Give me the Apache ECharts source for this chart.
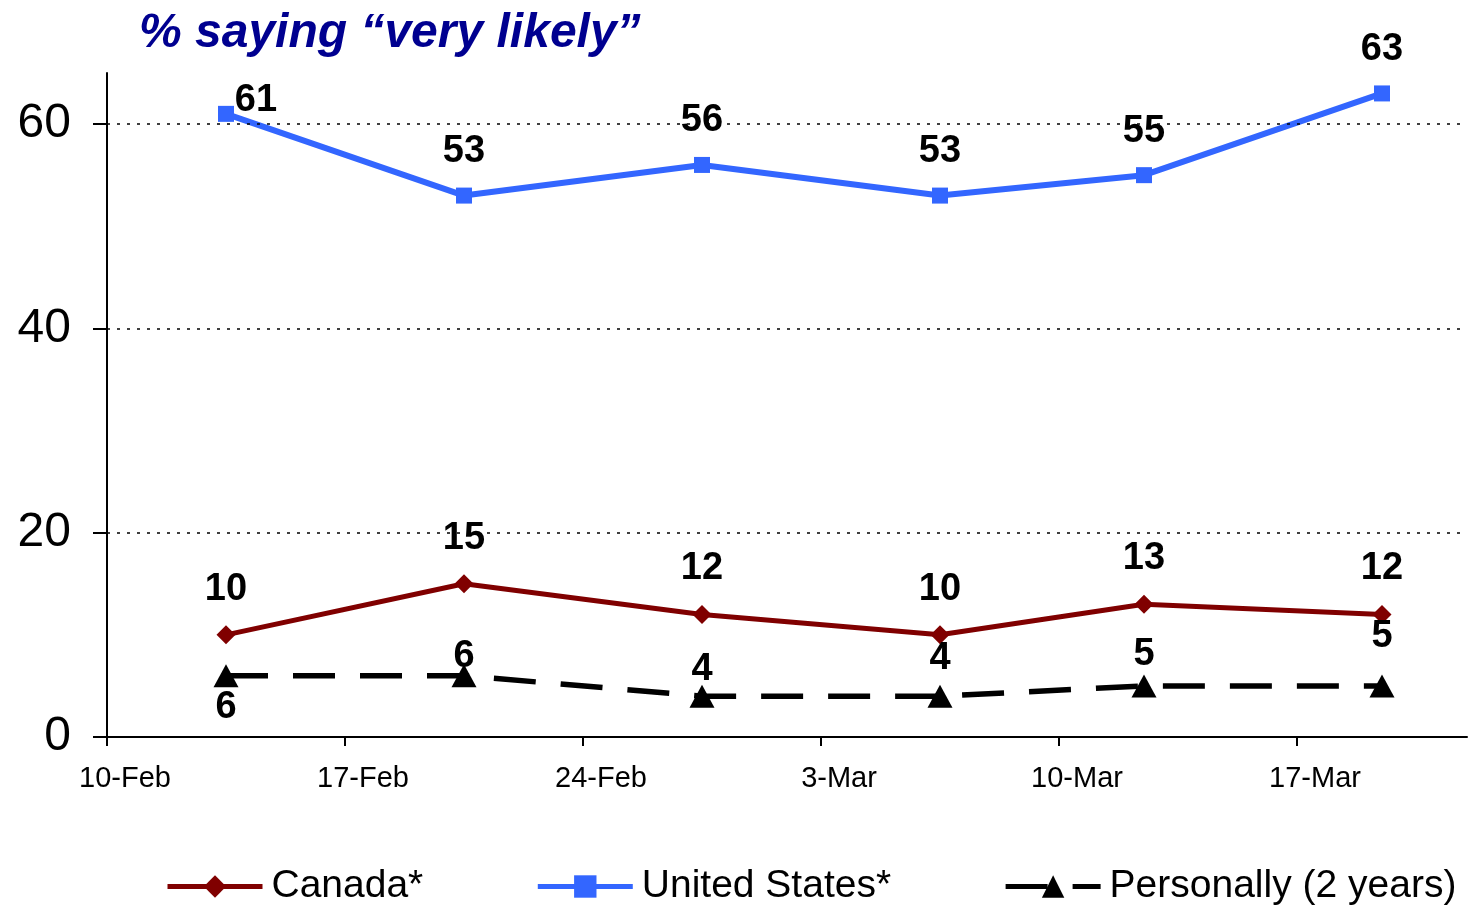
<!DOCTYPE html>
<html>
<head>
<meta charset="utf-8">
<title>% saying very likely</title>
<script src="https://cdn.jsdelivr.net/npm/echarts@6/dist/echarts.min.js"></script>
<style>
html, body { margin: 0; padding: 0; background: #ffffff; }
#chart { width: 1470px; height: 905px; }
</style>
</head>
<body>
<div id="chart"></div>
<script>
// survey dates and results
var axisStart = '2003-02-10'
var axisDays = 40
var tickLabels = ['10-Feb', '17-Feb', '24-Feb', '3-Mar', '10-Mar', '17-Mar']
var surveyDates = ['2003-02-13', '2003-02-20', '2003-02-27', '2003-03-06', '2003-03-12', '2003-03-19']
var canada = [10, 15, 12, 10, 13, 12]
var unitedStates = [61, 53, 56, 53, 55, 63]
var personally = [6, 6, 4, 4, 5, 5]
var yTicks = [0, 20, 40, 60]

// label nudges for the "Personally" series (layout only, px down)
var personalLabelShift = [-7, 23, 16, 5, 11, -7]

// day position of each survey, centred in its day like the original date axis
var dayPos = surveyDates.map(function (d) {
  return (Date.parse(d) - Date.parse(axisStart)) / 86400000 + 0.5
})
var xTicks = tickLabels.map(function (t, i) { return i * 7 })

function pairs (vals) {
  return vals.map(function (v, i) { return [dayPos[i], v] })
}

var labelFont = { fontFamily: 'Liberation Sans', fontWeight: 'bold', fontSize: 38, color: '#000000' }

var chart = echarts.init(document.getElementById('chart'))
chart.setOption({
  animation: false,
  title: {
    text: '% saying \u201cvery likely\u201d',
    left: 134,
    top: 5,
    textStyle: { fontFamily: 'Liberation Sans', fontStyle: 'italic', fontWeight: 'bold', fontSize: 48, color: '#000090' }
  },
  legend: {
    left: 160,
    top: 862,
    itemWidth: 95,
    itemHeight: 28,
    itemGap: 112,
    lineStyle: { width: 5 },
    textStyle: { fontFamily: 'Liberation Sans', fontSize: 39, color: '#000000', padding: [0, 0, 0, 4] },
    data: ['Canada*', 'United States*', 'Personally (2 years)']
  },
  grid: { left: 107, right: 3, top: 73, bottom: 168 },
  xAxis: {
    type: 'value',
    min: 0,
    max: axisDays,
    interval: 7,
    axisLine: { lineStyle: { color: '#000000', width: 2 } },
    axisTick: { show: true, length: 9, customValues: xTicks, lineStyle: { color: '#000000', width: 2 } },
    axisLabel: {
      customValues: xTicks,
      formatter: function (v) { return tickLabels[Math.round(v / 7)] || '' },
      fontFamily: 'Liberation Sans',
      fontSize: 29,
      color: '#000000',
      margin: 27,
      padding: [0, 0, 0, 36]
    },
    splitLine: { show: false }
  },
  yAxis: {
    type: 'value',
    min: 0,
    max: 65,
    interval: 20,
    axisLine: { show: true, lineStyle: { color: '#000000', width: 2 } },
    axisTick: { show: true, length: 14, customValues: yTicks, lineStyle: { color: '#000000', width: 2 } },
    axisLabel: {
      customValues: yTicks,
      fontFamily: 'Liberation Sans',
      fontSize: 48,
      color: '#000000',
      margin: 36
    },
    splitLine: { show: false }
  },
  series: [
    {
      name: 'Canada*',
      type: 'line',
      data: pairs(canada),
      symbol: 'diamond',
      symbolSize: 19,
      itemStyle: { color: '#800000' },
      lineStyle: { color: '#800000', width: 5 },
      label: Object.assign({ show: true, position: 'top', distance: 17 }, labelFont),
      z: 3
    },
    {
      name: 'United States*',
      type: 'line',
      data: pairs(unitedStates).map(function (p, i) {
        return i === 0 ? { value: p, label: { offset: [30, 31] } } : p
      }),
      symbol: 'rect',
      symbolSize: 16,
      itemStyle: { color: '#3366ff' },
      lineStyle: { color: '#3366ff', width: 6 },
      label: Object.assign({ show: true, position: 'top', distance: 17 }, labelFont),
      markLine: {
        silent: true,
        symbol: 'none',
        label: { show: false },
        lineStyle: { color: '#000000', width: 1.5, type: [3, 7] },
        data: yTicks.slice(1).map(function (v) { return { yAxis: v } })
      },
      z: 3
    },
    {
      name: 'Personally (2 years)',
      type: 'line',
      data: pairs(personally).map(function (p, i) {
        var lbl = { offset: [0, personalLabelShift[i]] }
        if (i === 0) { lbl.position = 'bottom'; lbl.distance = 8 }
        return { value: p, label: lbl }
      }),
      symbol: 'triangle',
      symbolSize: [25, 23],
      itemStyle: { color: '#000000' },
      lineStyle: { color: '#000000', width: 5.5, type: [42, 25] },
      label: Object.assign({ show: true, position: 'top', distance: 12 }, labelFont),
      z: 3
    }
  ]
})
</script>
</body>
</html>
